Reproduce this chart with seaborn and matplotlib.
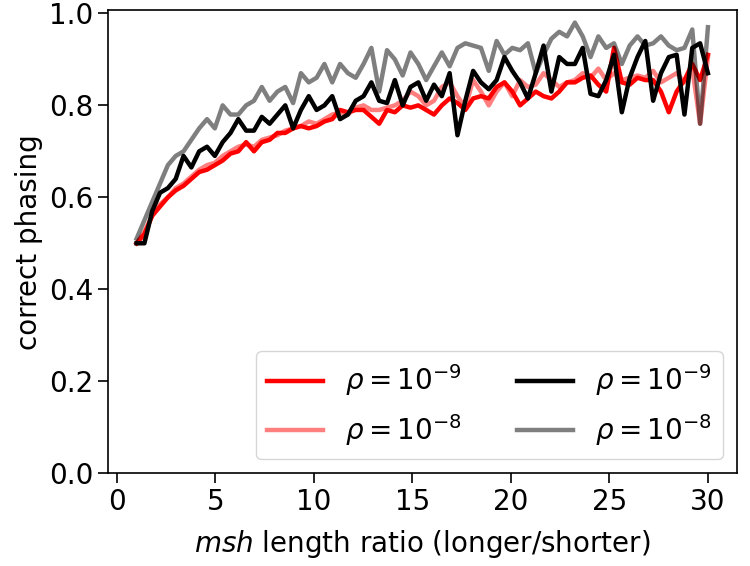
import numpy as np
import pandas as pd
import seaborn as sb
from matplotlib import pyplot as plt

plt.rcParams.update({'font.size': 20})

# msh length ratio grid (74 evenly spaced ratios between 1 and 30)
ratio = np.linspace(1, 30, 74)

# red curves
red_rho9 = [0.50, 0.52, 0.56, 0.58, 0.60, 0.615, 0.625, 0.64, 0.655, 0.66,
            0.67, 0.68, 0.695, 0.70, 0.72, 0.70, 0.72, 0.725, 0.74, 0.74,
            0.75, 0.755, 0.75, 0.755, 0.765, 0.77, 0.79, 0.785, 0.79, 0.79,
            0.775, 0.76, 0.79, 0.785, 0.80, 0.795, 0.80, 0.79, 0.78, 0.80,
            0.815, 0.805, 0.79, 0.815, 0.82, 0.815, 0.84, 0.85, 0.83, 0.80,
            0.815, 0.83, 0.82, 0.815, 0.83, 0.85, 0.85, 0.86, 0.865, 0.845,
            0.83, 0.925, 0.85, 0.845, 0.86, 0.855, 0.855, 0.83, 0.785, 0.83,
            0.855, 0.89, 0.855, 0.91]
red_rho8 = [0.50, 0.525, 0.56, 0.585, 0.60, 0.62, 0.63, 0.645, 0.66, 0.67,
            0.675, 0.69, 0.70, 0.71, 0.715, 0.71, 0.725, 0.73, 0.735, 0.745,
            0.75, 0.755, 0.765, 0.76, 0.77, 0.78, 0.785, 0.78, 0.795, 0.80,
            0.79, 0.79, 0.795, 0.80, 0.81, 0.83, 0.82, 0.80, 0.81, 0.84,
            0.85, 0.82, 0.795, 0.855, 0.83, 0.80, 0.83, 0.85, 0.82, 0.855,
            0.84, 0.845, 0.87, 0.855, 0.84, 0.85, 0.855, 0.87, 0.86, 0.88,
            0.855, 0.87, 0.855, 0.86, 0.865, 0.86, 0.875, 0.85, 0.86, 0.87,
            0.85, 0.88, 0.76, 0.905]
# black curves
black_rho9 = [0.50, 0.50, 0.57, 0.61, 0.62, 0.64, 0.69, 0.665, 0.70, 0.71,
              0.69, 0.72, 0.74, 0.77, 0.745, 0.745, 0.775, 0.76, 0.78, 0.80,
              0.75, 0.79, 0.82, 0.79, 0.80, 0.82, 0.77, 0.78, 0.81, 0.82,
              0.85, 0.81, 0.805, 0.855, 0.80, 0.84, 0.85, 0.81, 0.845, 0.82,
              0.87, 0.735, 0.81, 0.875, 0.85, 0.835, 0.855, 0.905, 0.875, 0.85,
              0.815, 0.87, 0.93, 0.83, 0.905, 0.89, 0.89, 0.925, 0.825, 0.82,
              0.855, 0.91, 0.785, 0.86, 0.905, 0.94, 0.81, 0.87, 0.905, 0.91,
              0.78, 0.925, 0.935, 0.87]
grey_rho8 = [0.51, 0.55, 0.59, 0.63, 0.67, 0.69, 0.70, 0.725, 0.75, 0.77,
             0.75, 0.80, 0.78, 0.78, 0.80, 0.81, 0.84, 0.81, 0.83, 0.84,
             0.805, 0.87, 0.85, 0.86, 0.89, 0.85, 0.89, 0.87, 0.86, 0.89,
             0.925, 0.83, 0.92, 0.90, 0.865, 0.915, 0.89, 0.855, 0.885, 0.915,
             0.885, 0.925, 0.935, 0.93, 0.925, 0.875, 0.94, 0.91, 0.925, 0.92,
             0.935, 0.87, 0.91, 0.945, 0.96, 0.95, 0.98, 0.95, 0.905, 0.95,
             0.925, 0.935, 0.89, 0.93, 0.95, 0.93, 0.935, 0.95, 0.93, 0.92,
             0.925, 0.965, 0.76, 0.97]

series = [(red_rho9, 'red', 1.0, r'$\rho = 10^{-9}$'),
          (red_rho8, 'red', 0.5, r'$\rho = 10^{-8}$'),
          (black_rho9, 'black', 1.0, r'$\rho = 10^{-9}$'),
          (grey_rho8, 'black', 0.5, r'$\rho = 10^{-8}$')]

fig, ax = plt.subplots(figsize=(7.5, 5.66), dpi=100)
for vals, col, a, lab in series:
    sb.lineplot(x=ratio, y=vals, color=col, alpha=a, lw=3.2, label=lab, ax=ax)

ax.set_ylim(0, 1.007)
ax.set_xlabel(r'$\it{msh}$ length ratio (longer/shorter)', labelpad=9)
ax.set_ylabel('correct phasing')
ax.legend(ncol=2, loc='lower right')
ax.tick_params(length=7, width=1.2)
for s in ax.spines.values():
    s.set_linewidth(1.2)

plt.subplots_adjust(left=0.144, right=0.982, top=0.982, bottom=0.164)
fig.savefig('out.png', dpi=100)
